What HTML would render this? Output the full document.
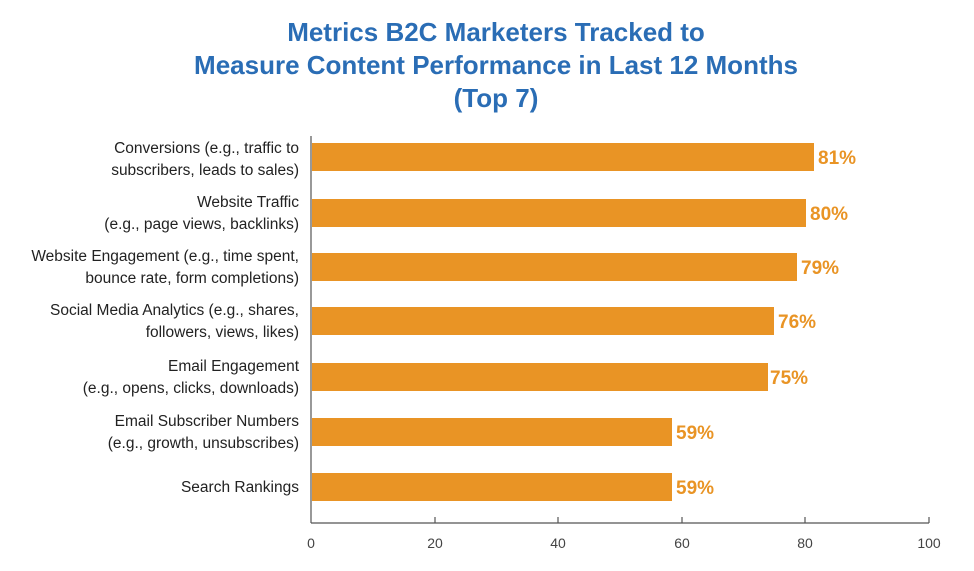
<!DOCTYPE html><html><head><style>body{margin:0;background:#fff;}</style></head><body>
<svg width="974" height="566" xmlns="http://www.w3.org/2000/svg" font-family="Liberation Sans, sans-serif">
<g fill="#2a6db5" font-weight="bold" font-size="26" text-anchor="middle">
<text x="496" y="41">Metrics B2C Marketers Tracked to</text>
<text x="496" y="74">Measure Content Performance in Last 12 Months</text>
<text x="496" y="107">(Top 7)</text></g>
<g fill="#e99425">
<rect x="312" y="143" width="502" height="28"/>
<rect x="312" y="199" width="494" height="28"/>
<rect x="312" y="253" width="485" height="28"/>
<rect x="312" y="307" width="462" height="28"/>
<rect x="312" y="363" width="456" height="28"/>
<rect x="312" y="418" width="360" height="28"/>
<rect x="312" y="473" width="360" height="28"/></g>
<g fill="#e99425" font-weight="bold" font-size="19">
<text x="818" y="164">81%</text><text x="810" y="220">80%</text><text x="801" y="274">79%</text>
<text x="778" y="328">76%</text><text x="770" y="384">75%</text><text x="676" y="439">59%</text><text x="676" y="494">59%</text></g>
<g fill="#222" font-size="15.5" text-anchor="end">
<text x="299" y="153">Conversions (e.g., traffic to</text><text x="299" y="175">subscribers, leads to sales)</text>
<text x="299" y="207">Website Traffic</text><text x="299" y="229">(e.g., page views, backlinks)</text>
<text x="299" y="261">Website Engagement (e.g., time spent,</text><text x="299" y="283">bounce rate, form completions)</text>
<text x="299" y="315">Social Media Analytics (e.g., shares,</text><text x="299" y="337">followers, views, likes)</text>
<text x="299" y="371">Email Engagement</text><text x="299" y="393">(e.g., opens, clicks, downloads)</text>
<text x="299" y="426">Email Subscriber Numbers</text><text x="299" y="448">(e.g., growth, unsubscribes)</text>
<text x="299" y="492">Search Rankings</text></g>
<g stroke="#555" stroke-width="1.2">
<line x1="311" y1="136" x2="311" y2="523"/><line x1="311" y1="523" x2="929" y2="523"/>
<line x1="435" y1="517" x2="435" y2="523"/><line x1="558" y1="517" x2="558" y2="523"/>
<line x1="682" y1="517" x2="682" y2="523"/><line x1="805" y1="517" x2="805" y2="523"/><line x1="929" y1="517" x2="929" y2="523"/></g>
<g fill="#444" font-size="14" text-anchor="middle">
<text x="311" y="548">0</text><text x="435" y="548">20</text><text x="558" y="548">40</text><text x="682" y="548">60</text><text x="805" y="548">80</text><text x="929" y="548">100</text></g>
</svg></body></html>
